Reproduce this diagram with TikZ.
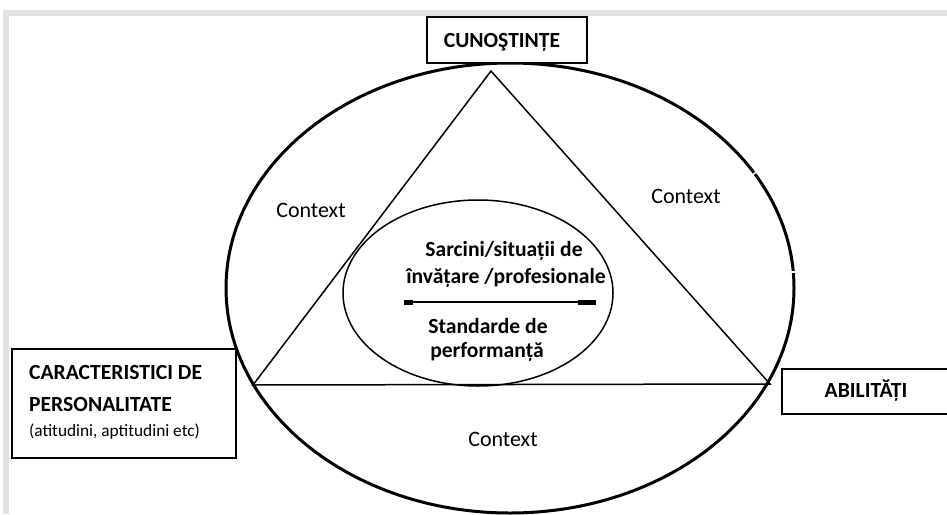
\documentclass[tikz,border=0pt]{standalone}
\usepackage{fontspec}
\setmainfont{Carlito}
\begin{document}
\begin{tikzpicture}[x=1pt,y=-1pt,
  boxstyle/.style={draw, line width=1.6pt, fill=white, inner sep=0pt},
  boldtxt/.style={font=\fontsize{21.6}{26}\selectfont\bfseries, inner sep=0pt, anchor=base},
  ctx/.style={font=\fontsize{22}{26}\selectfont, inner sep=0pt, anchor=base},
  smalltxt/.style={font=\fontsize{17.3}{21}\selectfont, inner sep=0pt, anchor=base west},
  thinline/.style={line width=1.5pt},
]
\useasboundingbox (0,0) rectangle (947,514);
\definecolor{framegray}{RGB}{226,226,226}
\fill[framegray] (3,10) rectangle (947,16);
\fill[framegray] (3,10) rectangle (9,514);
% outer ellipse
\draw[line width=3pt] (510,288) ellipse [x radius=284pt, y radius=225pt];
\draw[white, line width=1.4pt] (750.2,176.6) -- (759.8,169.4);
\draw[white, line width=1.4pt] (788,272) -- (799,272);
% triangle
\coordinate (apex) at (491,71);
\coordinate (bl) at (253,385);
\coordinate (br) at (770,384);
\draw[thinline, line join=miter] (apex) -- (bl) -- (br) -- cycle;
% inner ellipse
\draw[thinline] (478,293) ellipse [x radius=135pt, y radius=93pt];
% separator
\coordinate (sepl) at (404,302);
\coordinate (sepr) at (596,302);
\draw[line width=2pt] (sepl) -- (sepr);
\fill (404,299.5) rectangle (413,305);
\fill (578,299.5) rectangle (596,305);
% boxes
\node[boxstyle, minimum width=160pt, minimum height=46pt] (cunbox) at (507,40) {};
\node[boldtxt] (cun) at (502,47) {CUNOŞTINȚE};
\node[boxstyle, minimum width=224pt, minimum height=109pt] (perbox) at (124,403.5) {};
\node[boldtxt, anchor=base west] (per1) at (29,379) {CARACTERISTICI DE};
\node[boldtxt, anchor=base west] (per2) at (29,411) {PERSONALITATE};
\node[smalltxt] (per3) at (29,436) {(atitudini, aptitudini etc)};
\node[boxstyle, minimum width=170pt, minimum height=45pt] (abibox) at (867,391.5) {};
\node[boldtxt] (abi) at (866,397) {ABILITĂȚI};
% inner texts
\node[boldtxt] (s1) at (504,256) {Sarcini/situații de};
\node[boldtxt] (s2) at (506,283) {învățare /profesionale};
\node[boldtxt] (s3) at (488,333) {Standarde de};
\node[boldtxt] (s4) at (487,357) {performanță};
% context labels
\node[ctx] (ctxl) at (311,217) {Context};
\node[ctx] (ctxr) at (686,203) {Context};
\node[ctx] (ctxb) at (503,446) {Context};
\end{tikzpicture}
\end{document}
